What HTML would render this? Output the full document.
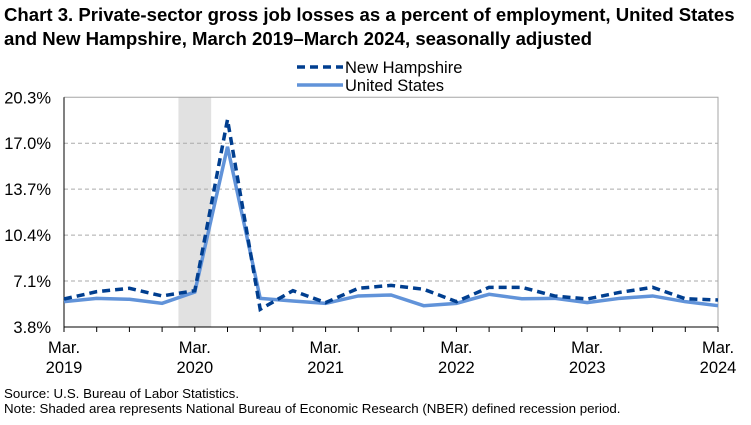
<!DOCTYPE html>
<html><head><meta charset="utf-8"><style>
body{margin:0;background:#fff;font-family:"Liberation Sans",Arial,sans-serif;}
svg text{font-family:"Liberation Sans",Arial,sans-serif;}
</style></head><body>
<svg width="751" height="420" viewBox="0 0 751 420" xmlns="http://www.w3.org/2000/svg">
<text x="4" y="21" font-size="18.6" font-weight="bold" fill="#000">Chart 3. Private-sector gross job losses as a percent of employment, United States</text>
<text x="4" y="45" font-size="18.6" font-weight="bold" fill="#000">and New Hampshire, March 2019–March 2024, seasonally adjusted</text>
<g>
<line x1="297" y1="67" x2="343" y2="67" stroke="#003e8f" stroke-width="3.5" stroke-dasharray="8,5"/>
<text x="345" y="73" font-size="16.5" fill="#000">New Hampshire</text>
<line x1="297" y1="85" x2="343" y2="85" stroke="#6193d9" stroke-width="3.5"/>
<text x="345" y="91" font-size="16.5" fill="#000">United States</text>
</g>
<g id="plot"></g>
<text x="4" y="398" font-size="13.3" fill="#000">Source: U.S. Bureau of Labor Statistics.</text>
<text x="4" y="413" font-size="13.3" fill="#000">Note: Shaded area represents National Bureau of Economic Research (NBER) defined recession period.</text>
</svg>
<script>
const quarters=["Mar19","Jun19","Sep19","Dec19","Mar20","Jun20","Sep20","Dec20","Mar21","Jun21","Sep21","Dec21","Mar22","Jun22","Sep22","Dec22","Mar23","Jun23","Sep23","Dec23","Mar24"];
const nhValues=[5.81,6.34,6.58,6.03,6.41,18.7,5.07,6.41,5.55,6.58,6.79,6.51,5.62,6.65,6.65,6.03,5.81,6.29,6.65,5.83,5.74];
const usValues=[5.62,5.86,5.79,5.5,6.31,16.75,5.86,5.67,5.5,6.03,6.1,5.33,5.5,6.15,5.83,5.86,5.55,5.86,6.03,5.62,5.33];
const yTicks=[3.8,7.1,10.4,13.7,17.0,20.3];
const xLabels=[["Mar.","2019",0],["Mar.","2020",4],["Mar.","2021",8],["Mar.","2022",12],["Mar.","2023",16],["Mar.","2024",20]];
const recession=[3.5,4.5];
const L=64,R=718,T=97.3,B=327,ymin=3.8,ymax=20.3;
const xs=i=>L+(R-L)*i/(quarters.length-1);
const ys=v=>B-(v-ymin)/(ymax-ymin)*(B-T);
const g=document.getElementById('plot');
const NS='http://www.w3.org/2000/svg';
function mk(t,a){const e=document.createElementNS(NS,t);for(const k in a)e.setAttribute(k,a[k]);g.appendChild(e);return e;}
let sh=mk('rect',{x:xs(recession[0]),y:T,width:xs(recession[1])-xs(recession[0]),height:B-T,fill:'#e1e1e1'});


yTicks.forEach((v,i)=>{
 if(i>0&&i<yTicks.length-1){let gl=mk('line',{x1:L,x2:R,y1:ys(v),y2:ys(v),stroke:'#aaa','stroke-dasharray':'4,3'});
 
 }
 let t=mk('text',{x:51,y:ys(v)+6,'text-anchor':'end','font-size':'16.5',fill:'#000'});t.textContent=v.toFixed(1)+'%';
 
 
});
let fr=mk('path',{d:`M${L},${T}H${R}V${B}`,fill:'none',stroke:'#a6a6a6'});


mk('line',{x1:L,x2:L,y1:T,y2:B,stroke:'#000'});
mk('line',{x1:L,x2:R,y1:B,y2:B,stroke:'#000'});
quarters.forEach((q,i)=>{let tk=mk('line',{x1:xs(i),x2:xs(i),y1:B,y2:B+5,stroke:'#000'});
 
 });
xLabels.forEach(l=>{
 let t=mk('text',{x:xs(l[2]),y:353,'text-anchor':'middle','font-size':'16.5',fill:'#000'});t.textContent=l[0];
 
 
 let t2=mk('text',{x:xs(l[2]),y:373,'text-anchor':'middle','font-size':'16.5',fill:'#000'});t2.textContent=l[1];
 
 
});
const pts=a=>a.map((v,i)=>xs(i)+','+ys(v)).join(' ');
let us=mk('polyline',{points:pts(usValues),fill:'none',stroke:'#6193d9','stroke-width':'3.5'});


let nh=mk('polyline',{points:pts(nhValues),fill:'none',stroke:'#003e8f','stroke-width':'3.5','stroke-dasharray':'8,5'});


</script>
</body></html>
